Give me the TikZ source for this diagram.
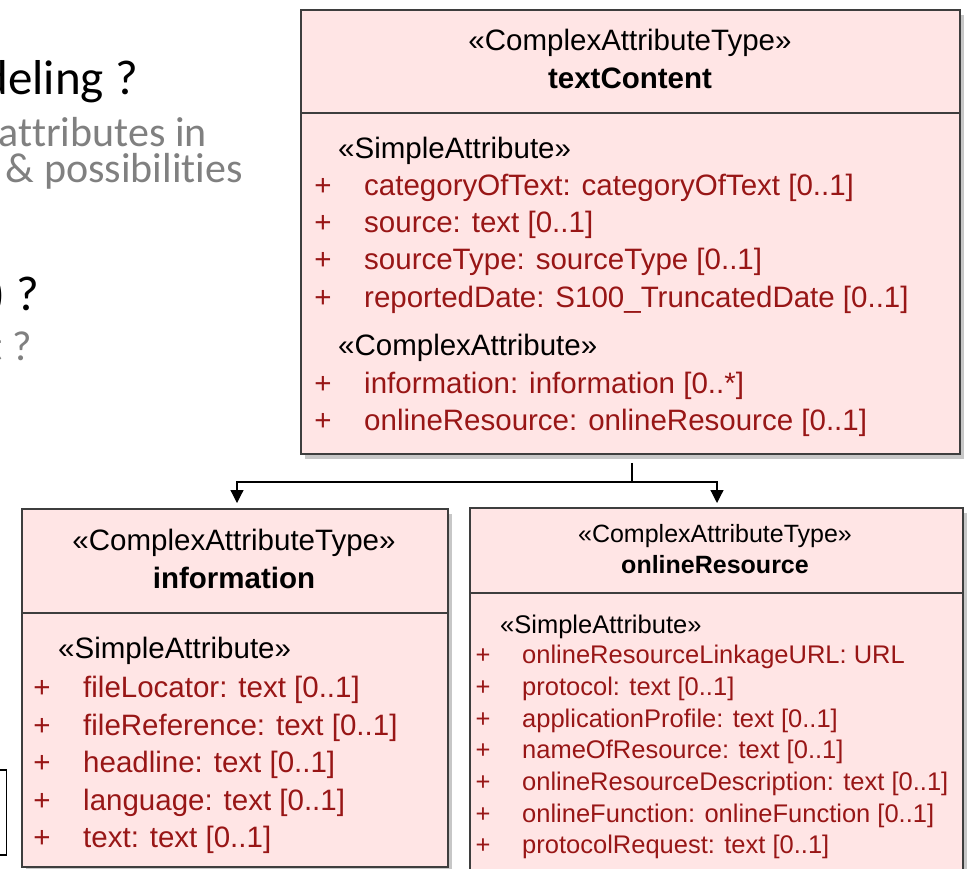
\documentclass[tikz,border=0pt]{standalone}
\usepackage{fontspec}
\setmainfont{Liberation Sans}
\newfontfamily\calibri[Ligatures=NoCommon]{Carlito}
\usetikzlibrary{arrows.meta,shadows}
\definecolor{boxfill}{RGB}{255,229,229}
\definecolor{boxline}{RGB}{62,62,62}
\definecolor{attrred}{RGB}{152,22,22}
\definecolor{slidegray}{RGB}{128,128,128}
\begin{document}
\begin{tikzpicture}[x=1pt,y=-1pt,
  umlbox/.style={draw=boxline, line width=1.8pt, fill=boxfill, anchor=north west, inner sep=0pt,
    drop shadow={shadow xshift=4pt, shadow yshift=-5pt, opacity=0.22, fill=black}},
  sepline/.style={draw=boxline, line width=1.8pt},
  fa/.style={font=\fontsize{29.5}{35}\selectfont},
  fb/.style={font=\fontsize{25.5}{30}\selectfont},
  fbh/.style={font=\fontsize{25}{30}\selectfont},
  ster/.style={inner sep=0pt, anchor=base west, text=black},
  hdr/.style={inner sep=0pt, anchor=base, text=black},
  attr/.style={inner sep=0pt, anchor=base west, text=attrred},
  vis/.style={inner sep=0pt, anchor=base, text=attrred},
  link/.style={draw=black, line width=1.2pt},
  arr/.style={link, -{Triangle[length=13pt,width=13pt]}},
  bigtxt/.style={font=\calibri\fontsize{49}{52}\selectfont, inner sep=0pt, anchor=base east, text=black},
  subtxt/.style={font=\calibri\fontsize{42}{46}\selectfont, inner sep=0pt, anchor=base east, text=slidegray},
]
\useasboundingbox (0,0) rectangle (968,868);
\clip (0,0) rectangle (968,868);

% slide text (cut off at the left)
\node[bigtxt] (t1) at (138,94) {deling ?};
\node[subtxt] (t2) at (207,146) {attributes in};
\node[subtxt] (t3) at (243,182) {\& possibilities};
\node[bigtxt] (t4) at (39,310) {) ?};
\node[subtxt] (t5) at (32,360) {t ?};
\node[draw=black, line width=1.5pt, fill=white, anchor=north east, minimum width=40pt, minimum height=85pt, inner sep=0pt] (lbox) at (7,769) {};

% textContent
\node[umlbox, minimum width=659pt, minimum height=444pt] (tc) at (300,9) {};
\draw[sepline] (tc.west |- 0,113) -- (tc.east |- 0,113);
\node[hdr, fa] (tcs) at (630,50) {«ComplexAttributeType»};
\node[hdr, fa] (tcn) at (630,88) {\bfseries textContent};
\node[ster, fa] (tcs1) at (338,158) {«SimpleAttribute»};
\node[vis, fa] (tcp1) at (323,195) {+};
\node[attr, fa] (tca1) at (364,195) {categoryOfText: categoryOfText [0..1]};
\node[vis, fa] (tcp2) at (323,232) {+};
\node[attr, fa] (tca2) at (364,232) {source: text [0..1]};
\node[vis, fa] (tcp3) at (323,269) {+};
\node[attr, fa] (tca3) at (364,269) {sourceType: sourceType [0..1]};
\node[vis, fa] (tcp4) at (323,307) {+};
\node[attr, fa] (tca4) at (364,307) {reportedDate: S100\_TruncatedDate [0..1]};
\node[ster, fa] (tcs2) at (338,355) {«ComplexAttribute»};
\node[vis, fa] (tcp5) at (323,393) {+};
\node[attr, fa] (tca5) at (364,393) {information: information [0..*]};
\node[vis, fa] (tcp6) at (323,430) {+};
\node[attr, fa] (tca6) at (364,430) {onlineResource: onlineResource [0..1]};

% information
\node[umlbox, minimum width=426pt, minimum height=358pt] (info) at (21,508) {};
\draw[sepline] (info.west |- 0,613) -- (info.east |- 0,613);
\node[hdr, fa] (ins) at (234,550) {«ComplexAttributeType»};
\node[hdr, fa] (inn) at (234,588) {\bfseries information};
\node[ster, fa] (ins1) at (58,658) {«SimpleAttribute»};
\node[vis, fa] (inp1) at (42,697) {+};
\node[attr, fa] (ina1) at (83,697) {fileLocator: text [0..1]};
\node[vis, fa] (inp2) at (42,735) {+};
\node[attr, fa] (ina2) at (83,735) {fileReference: text [0..1]};
\node[vis, fa] (inp3) at (42,772) {+};
\node[attr, fa] (ina3) at (83,772) {headline: text [0..1]};
\node[vis, fa] (inp4) at (42,810) {+};
\node[attr, fa] (ina4) at (83,810) {language: text [0..1]};
\node[vis, fa] (inp5) at (42,847) {+};
\node[attr, fa] (ina5) at (83,847) {text: text [0..1]};

% onlineResource
\node[umlbox, minimum width=493pt, minimum height=420pt] (onl) at (469,507) {};
\draw[sepline] (onl.west |- 0,593) -- (onl.east |- 0,593);
\node[hdr, fbh] (ons) at (715,542) {«ComplexAttributeType»};
\node[hdr, fbh] (onn) at (715,573) {\bfseries onlineResource};
\node[ster, fb] (ons1) at (500,633) {«SimpleAttribute»};
\node[vis, fb] (onp1) at (483,663) {+};
\node[attr, fb] (ona1) at (522,663) {onlineResourceLinkageURL: URL};
\node[vis, fb] (onp2) at (483,695) {+};
\node[attr, fb] (ona2) at (522,695) {protocol: text [0..1]};
\node[vis, fb] (onp3) at (483,727) {+};
\node[attr, fb] (ona3) at (522,727) {applicationProfile: text [0..1]};
\node[vis, fb] (onp4) at (483,758) {+};
\node[attr, fb] (ona4) at (522,758) {nameOfResource: text [0..1]};
\node[vis, fb] (onp5) at (483,790) {+};
\node[attr, fb] (ona5) at (522,790) {onlineResourceDescription: text [0..1]};
\node[vis, fb] (onp6) at (483,822) {+};
\node[attr, fb] (ona6) at (522,822) {onlineFunction: onlineFunction [0..1]};
\node[vis, fb] (onp7) at (483,853) {+};
\node[attr, fb] (ona7) at (522,853) {protocolRequest: text [0..1]};

% connectors
\coordinate (j) at (632,482);
\coordinate (ia) at (237,503);
\coordinate (oa) at (717,503);
\draw[link] ([yshift=-8pt]tc.south -| j) -- (j);
\draw[arr] (j) -| (ia);
\draw[arr] (j) -| (oa);
\end{tikzpicture}
\end{document}
